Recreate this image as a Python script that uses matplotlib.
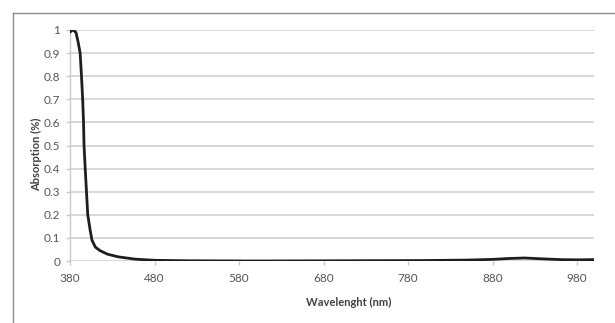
import numpy as np
import matplotlib.pyplot as plt
from matplotlib.lines import Line2D

# absorption spectrum
wavelength = [380, 381, 383.5, 387, 389.5, 392, 393.6, 395, 396, 396.6, 398, 399.5,
              401, 404, 406, 410, 415.5, 424, 437, 457, 480, 520, 600, 700, 800,
              850, 880, 900, 918, 935, 960, 980, 1000]
absorption = [0.99, 0.995, 1.0, 0.99, 0.95, 0.9, 0.8, 0.7, 0.6, 0.5, 0.4, 0.3,
              0.2, 0.13, 0.09, 0.06, 0.045, 0.03, 0.018, 0.008, 0.003, 0.001, 0.0, 0.001, 0.002,
              0.004, 0.007, 0.011, 0.013, 0.01, 0.006, 0.005, 0.006]
xticks = [380, 480, 580, 680, 780, 880, 980]
yticks = [0, 0.1, 0.2, 0.3, 0.4, 0.5, 0.6, 0.7, 0.8, 0.9, 1]
ytick_labels = ['0', '0.1', '0.2', '0.3', '0.4', '0.5', '0.6', '0.7', '0.8', '0.9', '1']

plt.rcParams['font.family'] = ['Lato', 'DejaVu Sans']

fig = plt.figure(figsize=(6.15, 3.23), dpi=100)
ax = fig.add_axes([70 / 615, 1 - 261 / 323, (594 - 70) / 615, (261 - 30) / 323])

ax.plot(wavelength, absorption, color='#1e1e1e', lw=2.0, solid_capstyle='round', zorder=3)

ax.set_xlim(380, 1000)
ax.set_ylim(0, 1)
ax.set_xticks(xticks)
ax.set_yticks(yticks)
ax.set_yticklabels(ytick_labels)
ax.grid(axis='y', color='#d6d6d6', lw=1.3)
ax.set_axisbelow(True)

for s in ['top', 'right', 'bottom']:
    ax.spines[s].set_visible(False)
ax.spines['left'].set_color('#c8c8c8')
ax.spines['left'].set_linewidth(1.0)

ax.tick_params(axis='both', colors='#c8c8c8', labelcolor='#555555', labelsize=8.5,
               length=3, width=1.0)
ax.tick_params(axis='x', pad=6)
ax.tick_params(axis='y', pad=4)

fig.text(349 / 615, 1 - 302 / 323, 'Wavelenght (nm)', ha='center', va='center',
         fontsize=8, fontweight='bold', color='#404040')
fig.text(37 / 615, 1 - 154 / 323, 'Absorption (%)', ha='center', va='center',
         rotation=90, fontsize=8, fontweight='bold', color='#404040')

# outer chart frame (left and top edges visible)
fig.add_artist(Line2D([13 / 615, 13 / 615], [0, 1 - 13 / 323], transform=fig.transFigure,
                      color='#8a8a8a', lw=1.0))
fig.add_artist(Line2D([13 / 615, 1], [1 - 13 / 323, 1 - 13 / 323], transform=fig.transFigure,
                      color='#8a8a8a', lw=1.0))

fig.savefig('out.png', dpi=100)
